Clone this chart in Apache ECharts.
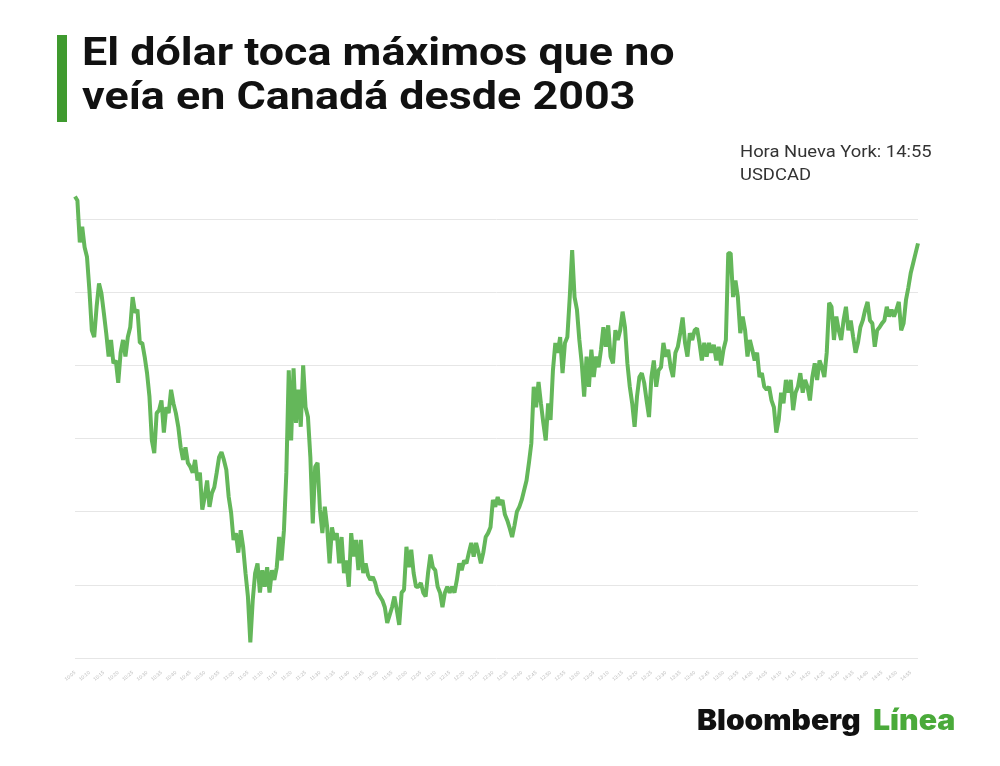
<!DOCTYPE html>
<html>
<head>
<meta charset="utf-8">
<script src="https://cdn.jsdelivr.net/npm/echarts@6/dist/echarts.min.js"></script>
<style>
  html, body { margin: 0; padding: 0; background: #fff; }
  #app { width: 1000px; height: 766px; }
</style>
</head>
<body>
<div id="app"></div>
<script>
// USDCAD, lectura aproximada del gráfico
const usdcad = [
  1.4573, 1.4569, 1.4526, 1.4542, 1.4521, 1.4511, 1.4477, 1.4436, 1.4429, 1.4460,
  1.4484, 1.4474, 1.4454, 1.4433, 1.4409, 1.4426, 1.4402, 1.4405, 1.4382, 1.4413,
  1.4426, 1.4409, 1.4429, 1.4439, 1.4470, 1.4454, 1.4457, 1.4423, 1.4423, 1.4409,
  1.4392, 1.4368, 1.4323, 1.4310, 1.4351, 1.4354, 1.4364, 1.4331, 1.4357, 1.4351,
  1.4375, 1.4361, 1.4351, 1.4337, 1.4316, 1.4303, 1.4316, 1.4300, 1.4296, 1.4290,
  1.4303, 1.4282,
  1.4290, 1.4252, 1.4265, 1.4282, 1.4255, 1.4269, 1.4275, 1.4290, 1.4306, 1.4311,
  1.4303, 1.4293, 1.4265, 1.4249, 1.4221, 1.4228, 1.4208, 1.4231, 1.4214, 1.4187,
  1.4163, 1.4116, 1.4159, 1.4187, 1.4197, 1.4167, 1.4190, 1.4173, 1.4193, 1.4167,
  1.4190, 1.4180, 1.4193, 1.4224, 1.4200, 1.4231, 1.4290, 1.4395, 1.4323, 1.4397,
  1.4341, 1.4375, 1.4337, 1.4400, 1.4357, 1.4347, 1.4306, 1.4238, 1.4296, 1.4300,
  1.4252, 1.4228, 1.4255, 1.4234, 1.4197, 1.4234, 1.4221, 1.4228, 1.4197, 1.4224,
  1.4187, 1.4200, 1.4173, 1.4228, 1.4204, 1.4221, 1.4190, 1.4221, 1.4187, 1.4197,
  1.4185, 1.4180, 1.4183, 1.4177, 1.4167, 1.4163, 1.4159, 1.4152, 1.4136, 1.4144,
  1.4152, 1.4163, 1.4149, 1.4134, 1.4167, 1.4170, 1.4214, 1.4193, 1.4211, 1.4187,
  1.4173, 1.4173, 1.4177, 1.4167, 1.4163, 1.4187, 1.4206, 1.4193, 1.4190, 1.4173,
  1.4167, 1.4152, 1.4167, 1.4173, 1.4167, 1.4173, 1.4167, 1.4180, 1.4197, 1.4190,
  1.4200, 1.4197, 1.4208, 1.4218, 1.4204, 1.4218, 1.4208, 1.4197, 1.4208, 1.4224,
  1.4228, 1.4234, 1.4262, 1.4255, 1.4265,
  1.4257, 1.4262, 1.4247, 1.4241, 1.4233, 1.4224, 1.4236, 1.4250, 1.4255, 1.4262,
  1.4272,
  1.4282, 1.4300, 1.4320, 1.4378, 1.4357, 1.4383, 1.4361, 1.4341, 1.4323, 1.4361,
  1.4344, 1.4395, 1.4423, 1.4413, 1.4429, 1.4392, 1.4423, 1.4429, 1.4470, 1.4518,
  1.4470, 1.4457, 1.4426, 1.4402, 1.4368, 1.4409, 1.4378, 1.4416, 1.4388, 1.4409,
  1.4398, 1.4416, 1.4439, 1.4419, 1.4441, 1.4409, 1.4402, 1.4436, 1.4426, 1.4436,
  1.4455, 1.4439, 1.4402, 1.4378, 1.4361, 1.4337, 1.4368, 1.4388, 1.4392, 1.4382,
  1.4364, 1.4347, 1.4388, 1.4405, 1.4378, 1.4395, 1.4398, 1.4423, 1.4409, 1.4416,
  1.4398, 1.4388, 1.4413, 1.4419, 1.4433, 1.4449, 1.4423, 1.4409, 1.4433, 1.4426,
  1.4436, 1.4438, 1.4423, 1.4405, 1.4423, 1.4409, 1.4423, 1.4413, 1.4421, 1.4405,
  1.4419, 1.4400, 1.4416, 1.4426, 1.4515,
  1.4515, 1.4470, 1.4487, 1.4470, 1.4433, 1.4450, 1.4436, 1.4409, 1.4426, 1.4416,
  1.4405, 1.4413, 1.4388, 1.4392, 1.4378, 1.4375, 1.4378, 1.4364, 1.4357, 1.4331,
  1.4344, 1.4372, 1.4361, 1.4385, 1.4372, 1.4385, 1.4354, 1.4372, 1.4378, 1.4392,
  1.4372, 1.4385, 1.4378, 1.4364, 1.4388, 1.4402, 1.4385, 1.4405, 1.4398, 1.4388,
  1.4413, 1.4464, 1.4460, 1.4426, 1.4450, 1.4436, 1.4426, 1.4446, 1.4460, 1.4436,
  1.4446, 1.4429, 1.4413, 1.4423, 1.4439, 1.4446, 1.4457, 1.4465, 1.4446, 1.4443,
  1.4419, 1.4436, 1.4439, 1.4443, 1.4446, 1.4460, 1.4450, 1.4457, 1.4450, 1.4457,
  1.4465, 1.4436, 1.4443, 1.4467, 1.4480, 1.4495, 1.4505, 1.4515, 1.4525
];

// etiquetas del eje x (ilegibles en el original, cada 6 puntos)
const tickLabels = [
  '10:05', '10:10', '10:15', '10:20', '10:25', '10:30', '10:35', '10:40', '10:45', '10:50', '10:55',
  '11:00', '11:05', '11:10', '11:15', '11:20', '11:25', '11:30', '11:35', '11:40', '11:45', '11:50', '11:55',
  '12:00', '12:05', '12:10', '12:15', '12:20', '12:25', '12:30', '12:35', '12:40', '12:45', '12:50', '12:55',
  '13:00', '13:05', '13:10', '13:15', '13:20', '13:25', '13:30', '13:35', '13:40', '13:45', '13:50', '13:55',
  '14:00', '14:05', '14:10', '14:15', '14:20', '14:25', '14:30', '14:35', '14:40', '14:45', '14:50', '14:55'
];
const tickStep = 6;

const categories = usdcad.map((v, i) => String(i));

const chart = echarts.init(document.getElementById('app'));

// textos anchos como en la imagen original
function label(x, y, text, font, fill, sx) {
  return {
    type: 'text',
    x: x,
    y: y,
    scaleX: sx,
    style: { x: 0, y: 0, text: text, font: font, fill: fill, verticalAlign: 'middle' }
  };
}

chart.setOption({
  backgroundColor: '#fff',
  animation: false,
  grid: {
    left: 75,
    right: 82,
    top: 219,
    bottom: 108
  },
  xAxis: {
    type: 'category',
    data: categories,
    boundaryGap: false,
    axisLine: { show: false },
    axisTick: { show: false },
    axisLabel: {
      interval: tickStep - 1,
      rotate: 40,
      fontSize: 5,
      color: '#bdbdbd',
      margin: 14,
      formatter: (val, idx) => tickLabels[Math.round(idx / tickStep)] || ''
    }
  },
  yAxis: {
    type: 'value',
    min: 1.41,
    max: 1.455,
    interval: 0.0075,
    axisLine: { show: false },
    axisTick: { show: false },
    axisLabel: { show: false },
    splitLine: { lineStyle: { color: '#e6e6e6', width: 1 } }
  },
  series: [
    {
      type: 'line',
      data: usdcad,
      showSymbol: false,
      clip: false,
      lineStyle: { color: '#64b75a', width: 4 },
      itemStyle: { color: '#64b75a' }
    }
  ],
  graphic: [
    {
      type: 'rect',
      shape: { x: 57, y: 35, width: 10, height: 87 },
      style: { fill: '#3f9a2f' }
    },
    label(82, 55, 'El dólar toca máximos que no', 'bold 38px Roboto', '#111', 1.18),
    label(82, 99, 'veía en Canadá desde 2003', 'bold 38px Roboto', '#111', 1.18),
    label(740, 153, 'Hora Nueva York: 14:55', '16px Roboto', '#333', 1.15),
    label(740, 176, 'USDCAD', '16px Roboto', '#333', 1.15),
    label(697, 722, 'Bloomberg', '900 28px Inter', '#111', 1.07),
    label(873, 722, 'Línea', '900 28px Inter', '#4aaa3a', 1.08)
  ]
});
</script>
</body>
</html>
